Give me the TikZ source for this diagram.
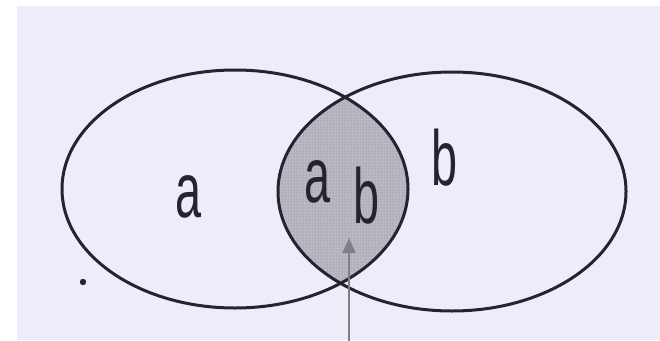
\documentclass[tikz,border=0pt]{standalone}
\usepackage{fontspec}
\setmainfont{Liberation Sans}
\usetikzlibrary{patterns,arrows.meta}
\definecolor{paper}{RGB}{236,237,248}
\definecolor{ink}{RGB}{36,36,48}
\definecolor{lensfill}{RGB}{185,185,195}
\definecolor{arrowgray}{RGB}{128,128,132}
\tikzset{
  setline/.style={draw=ink, line width=3pt},
  setlabel/.style={text=ink, font=\fontsize{78}{80}\selectfont, xscale=0.6, inner sep=0pt},
  pointer/.style={draw=arrowgray, line width=2.2pt, -{Triangle[length=15pt,width=13pt]}}
}
\begin{document}
\begin{tikzpicture}[x=1pt,y=-1pt]
\useasboundingbox (0,0) rectangle (660,340);
\fill[white] (0,0) rectangle (660,340);
\fill[paper] (17,6) rectangle (660,340);
% lens
\begin{scope}
  \clip (235,189) ellipse [x radius=173, y radius=119];
  \fill[lensfill] (452,191.5) ellipse [x radius=174, y radius=119.5];
  \fill[pattern=dots, pattern color=ink!60] (452,191.5) ellipse [x radius=174, y radius=119.5];
\end{scope}
\draw[setline] (235,189) ellipse [x radius=173, y radius=119];
\draw[setline] (452,191.5) ellipse [x radius=174, y radius=119.5];
% labels
\node[setlabel, anchor=base] (la) at (189,217) {a};
\node[setlabel, anchor=base] (lab) at (318,202) {a};
\node[setlabel, anchor=base] (lbb) at (367,223) {b};
\node[setlabel, anchor=base] (lb) at (445,185) {b};
% dot
\fill[ink] (83,282) circle [radius=3.2];
% pointer
\coordinate (pstart) at (349,342);
\coordinate (ptip) at (349,238);
\draw[pointer] (pstart) -- (ptip);
\end{tikzpicture}
\end{document}
